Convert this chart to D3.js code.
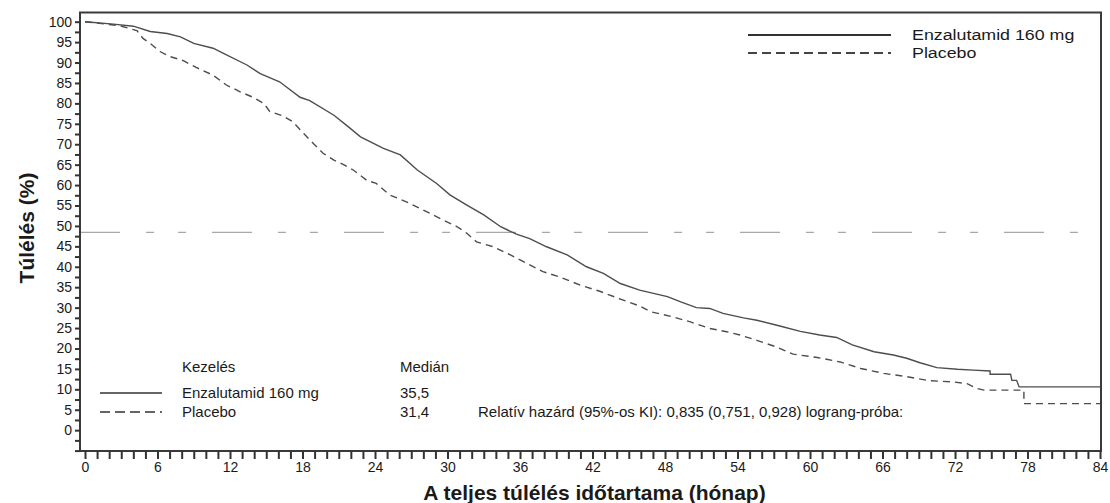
<!DOCTYPE html>
<html>
<head>
<meta charset="utf-8">
<script src="https://cdn.jsdelivr.net/npm/d3@7"></script>
<style>
  html, body { margin: 0; padding: 0; background: #fff; }
  svg { display: block; font-family: "Liberation Sans", Arial, sans-serif; }
</style>
</head>
<body>
<svg id="chart" width="1110" height="503"></svg>
<script>
// Kaplan–Meier survival estimates (months, % surviving)
const enzaTime = [0, 2.35, 4.0, 5.4, 6.8, 7.9, 9.0, 10.6, 11.5, 13.4, 14.5, 16.1, 17.8, 18.6, 20.6, 21.7, 22.8,
  24.7, 26.1, 27.5, 29.1, 30.2, 31.6, 33.0, 34.4, 35.7, 36.8, 38.2, 39.9, 41.5, 42.9, 44.3, 45.9, 48.2, 49.3,
  50.6, 51.7, 52.8, 54.5, 55.6, 57.5, 59.2, 60.8, 62.2, 63.5, 65.3, 66.9, 68.0, 69.1, 70.5, 72.2, 73.5, 74.9,
  74.9, 76.6, 76.7, 77.1, 77.3, 84];
const enzaSurv = [100, 99.4, 98.9, 97.6, 97.1, 96.3, 94.7, 93.5, 92.2, 89.4, 87.3, 85.3, 81.5, 80.7, 77.1, 74.5, 71.8,
  69.0, 67.4, 63.7, 60.4, 57.6, 55.1, 52.7, 49.8, 48.0, 46.9, 44.9, 42.9, 40.0, 38.4, 35.9, 34.3, 32.7, 31.4,
  30.0, 29.8, 28.6, 27.5, 26.9, 25.5, 24.2, 23.3, 22.7, 20.9, 19.2, 18.4, 17.6, 16.5, 15.3, 14.9, 14.7, 14.5,
  13.7, 13.7, 12.2, 12.2, 10.6, 10.6];

const placeboTime = [0, 2.9, 3.6, 4.3, 4.8, 5.4, 6.2, 7.0, 8.1, 9.2, 10.6, 11.7, 12.8, 13.9, 14.8, 15.3, 16.4, 17.2,
  18.1, 18.9, 19.7, 20.6, 21.4, 22.2, 23.3, 24.1, 25.2, 26.6, 28.0, 29.4, 30.8, 31.6, 32.4, 33.8, 35.2, 36.6,
  37.9, 39.3, 41.0, 42.6, 44.3, 45.9, 46.8, 48.7, 50.1, 51.7, 53.1, 54.2, 55.6, 57.2, 58.6, 60.6, 62.5, 64.2,
  66.1, 68.0, 69.9, 71.9, 73.0, 73.8, 74.4, 77.7, 77.7, 84];
const placeboSurv = [100, 99.0, 98.4, 97.8, 95.9, 94.7, 92.7, 91.5, 90.5, 88.8, 86.9, 84.5, 82.9, 81.5, 80.0, 78.0, 76.9, 75.5,
  72.6, 70.2, 67.8, 66.1, 65.0, 63.7, 61.2, 60.4, 57.6, 55.9, 53.9, 51.8, 49.8, 48.2, 46.1, 44.9, 42.9, 40.8,
  38.8, 37.5, 35.5, 34.0, 32.1, 30.4, 29.0, 27.7, 26.5, 24.9, 24.1, 23.3, 22.0, 20.4, 18.6, 17.8, 16.7, 15.1,
  13.9, 13.1, 12.1, 11.8, 11.4, 10.2, 9.8, 9.8, 6.5, 6.5];

// Axis ticks
const xTickValues = d3.range(0, 85, 1);
const xTickLabels = ["0", "6", "12", "18", "24", "30", "36", "42", "48", "54", "60", "66", "72", "78", "84"];
const yTickValues = d3.range(-5, 100.1, 2.5);
const yTickLabels = ["0", "5", "10", "15", "20", "25", "30", "35", "40", "45", "50", "55", "60", "65", "70", "75", "80", "85", "90", "95", "100"];

// Median survival reference level
const medianLevel = [48.4];

// Legend and statistics text
const seriesNames = ["Enzalutamid 160 mg", "Placebo"];
const medians = ["35,5", "31,4"];
const legendTitle = "Kezelés";
const medianTitle = "Medián";
const hazardText = "Relatív hazárd (95%-os KI): 0,835 (0,751, 0,928) lograng-próba:";
const xTitle = "A teljes túlélés időtartama (hónap)";
const yTitle = "Túlélés (%)";

const svg = d3.select("#chart");
const frame = { left: 80, right: 1101, top: 12.5, bottom: 451 };

const x = d3.scaleLinear().domain([-0.414, 84.08]).range([frame.left, frame.right]);
const y = d3.scaleLinear().domain([-5.1, 102.25]).range([frame.bottom, frame.top]);

const lineColor = "#4d4d4d";
const textColor = "#1a1a1a";

// Reference line at the median level
svg.append("g").selectAll("line").data(medianLevel).join("line")
  .attr("x1", frame.left).attr("x2", frame.right)
  .attr("y1", d => y(d)).attr("y2", d => y(d))
  .attr("stroke", "#a8a8a8").attr("stroke-width", 1.3)
  .attr("stroke-dasharray", "40,26,8,24,8,26");

// Survival curves
const line = d3.line().x(d => x(d[0])).y(d => y(d[1]));
const enzaData = enzaTime.map((t, i) => [t, enzaSurv[i]]);
const placeboData = placeboTime.map((t, i) => [t, placeboSurv[i]]);

svg.append("path").datum(placeboData)
  .attr("d", line).attr("fill", "none")
  .attr("stroke", lineColor).attr("stroke-width", 1.4)
  .attr("stroke-dasharray", "7,5");

svg.append("path").datum(enzaData)
  .attr("d", line).attr("fill", "none")
  .attr("stroke", lineColor).attr("stroke-width", 1.4);

// Frame
svg.append("rect")
  .attr("x", frame.left).attr("y", frame.top)
  .attr("width", frame.right - frame.left).attr("height", frame.bottom - frame.top)
  .attr("fill", "none").attr("stroke", "#3a3a3a").attr("stroke-width", 2);

// X axis
const xAxis = d3.axisBottom(x).tickValues(xTickValues).tickSize(8).tickPadding(3)
  .tickFormat(d => d % 6 === 0 ? xTickLabels[d / 6] : "");
const gx = svg.append("g").attr("transform", `translate(0,${frame.bottom})`).call(xAxis);
gx.select(".domain").remove();
gx.selectAll(".tick line").attr("stroke", "#333").attr("stroke-width", 2);
gx.selectAll(".tick text").attr("font-size", 14).attr("fill", textColor)
  .attr("font-family", "'Liberation Sans', Arial, sans-serif");

// Y axis
const yAxis = d3.axisLeft(y).tickValues(yTickValues).tickSize(5).tickPadding(3)
  .tickFormat(d => (d >= 0 && d % 5 === 0) ? yTickLabels[d / 5] : "");
const gy = svg.append("g").attr("transform", `translate(${frame.left},0)`).call(yAxis);
gy.select(".domain").remove();
gy.selectAll(".tick line").attr("stroke", "#333").attr("stroke-width", 2);
gy.selectAll(".tick text").attr("font-size", 14).attr("fill", textColor)
  .attr("font-family", "'Liberation Sans', Arial, sans-serif");

// Axis titles
svg.append("text")
  .attr("x", (frame.left + frame.right) / 2 + 4).attr("y", 500)
  .attr("text-anchor", "middle").attr("font-size", 21).attr("font-weight", "bold")
  .attr("fill", textColor).text(xTitle);

svg.append("text")
  .attr("transform", "translate(34,228) rotate(-90)")
  .attr("text-anchor", "middle").attr("font-size", 21).attr("font-weight", "bold")
  .attr("fill", textColor).text(yTitle);

// Top-right legend
const topLegend = svg.append("g");
seriesNames.forEach((name, i) => {
  const ly = 35 + i * 18;
  topLegend.append("line")
    .attr("x1", 748).attr("x2", 891).attr("y1", ly).attr("y2", ly)
    .attr("stroke", i === 0 ? "#333" : "#444").attr("stroke-width", 2)
    .attr("stroke-dasharray", i === 0 ? null : "9,5");
  topLegend.append("text")
    .attr("transform", `translate(912,${ly}) scale(1.15,1)`)
    .attr("dy", "0.35em")
    .attr("font-size", 15.5).attr("fill", textColor).text(name);
});

// Bottom-left legend with medians
const botLegend = svg.append("g");
botLegend.append("text").attr("x", 182).attr("y", 367).attr("dy", "0.35em")
  .attr("font-size", 15).attr("fill", textColor).text(legendTitle);
botLegend.append("text").attr("x", 400).attr("y", 367).attr("dy", "0.35em")
  .attr("font-size", 15).attr("fill", textColor).text(medianTitle);
seriesNames.forEach((name, i) => {
  const ly = 393 + i * 19;
  botLegend.append("line")
    .attr("x1", 100).attr("x2", 162).attr("y1", ly).attr("y2", ly)
    .attr("stroke", "#333").attr("stroke-width", 1.6)
    .attr("stroke-dasharray", i === 0 ? null : "10,5");
  botLegend.append("text").attr("x", 182).attr("y", ly).attr("dy", "0.35em")
    .attr("font-size", 15).attr("fill", textColor).text(name);
  botLegend.append("text").attr("x", 400).attr("y", ly).attr("dy", "0.35em")
    .attr("font-size", 15).attr("fill", textColor).text(medians[i]);
});
botLegend.append("text").attr("x", 478).attr("y", 412).attr("dy", "0.35em")
  .attr("font-size", 15).attr("fill", textColor).text(hazardText);
</script>
</body>
</html>
